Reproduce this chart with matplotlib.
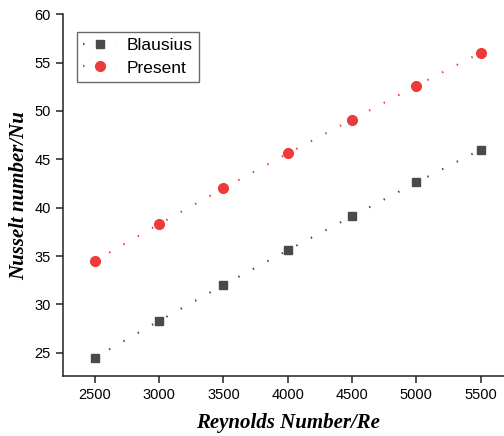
import matplotlib
matplotlib.use("Agg")
import matplotlib.pyplot as plt

# data
reynolds = [2500, 3000, 3500, 4000, 4500, 5000, 5500]
nu_blausius = [24.5, 28.3, 32.0, 35.6, 39.1, 42.6, 46.0]
nu_present = [34.5, 38.3, 42.0, 45.6, 49.1, 52.6, 56.0]

plt.rcParams['font.family'] = ['Liberation Sans', 'DejaVu Sans']

fig = plt.figure(figsize=(5.04, 4.36), dpi=100)
ax = fig.add_axes([0.1244, 0.1376, 0.893, 0.830])

ax.plot(reynolds, nu_blausius, color='#4a4a4a', marker='s', markersize=6,
        linestyle=(0, (0.7, 7.2)), linewidth=1.5, label='Blausius')
ax.plot(reynolds, nu_present, color='#ee3a3a', marker='o', markersize=7,
        linestyle=(0, (0.7, 7.2)), linewidth=1.5, label='Present')

ax.set_xlim(2250, 5750)
ax.set_ylim(22.6, 60)
ax.set_xticks([2500, 3000, 3500, 4000, 4500, 5000, 5500])
ax.set_yticks([25, 30, 35, 40, 45, 50, 55, 60])

for side in ['top', 'right']:
    ax.spines[side].set_visible(False)
for side in ['left', 'bottom']:
    ax.spines[side].set_linewidth(1.1)
    ax.spines[side].set_color('#222222')
ax.tick_params(direction='out', length=5, width=1.1, labelsize=10.5,
               colors='#222222', labelcolor='black')

ax.set_xlabel('Reynolds Number/Re', family='Liberation Serif', style='italic',
              weight='bold', fontsize=15, labelpad=8)
ax.set_ylabel('Nusselt number/Nu', family='Liberation Serif', style='italic',
              weight='bold', fontsize=15, labelpad=4)

leg = ax.legend(loc='upper left', bbox_to_anchor=(0.032, 0.95), fontsize=12.5,
                frameon=True, fancybox=False, edgecolor='#444444',
                handlelength=1.9, handletextpad=0.6, borderpad=0.35,
                labelspacing=0.4, borderaxespad=0)
leg.get_frame().set_linewidth(1.0)

fig.savefig('out.png', dpi=100)
